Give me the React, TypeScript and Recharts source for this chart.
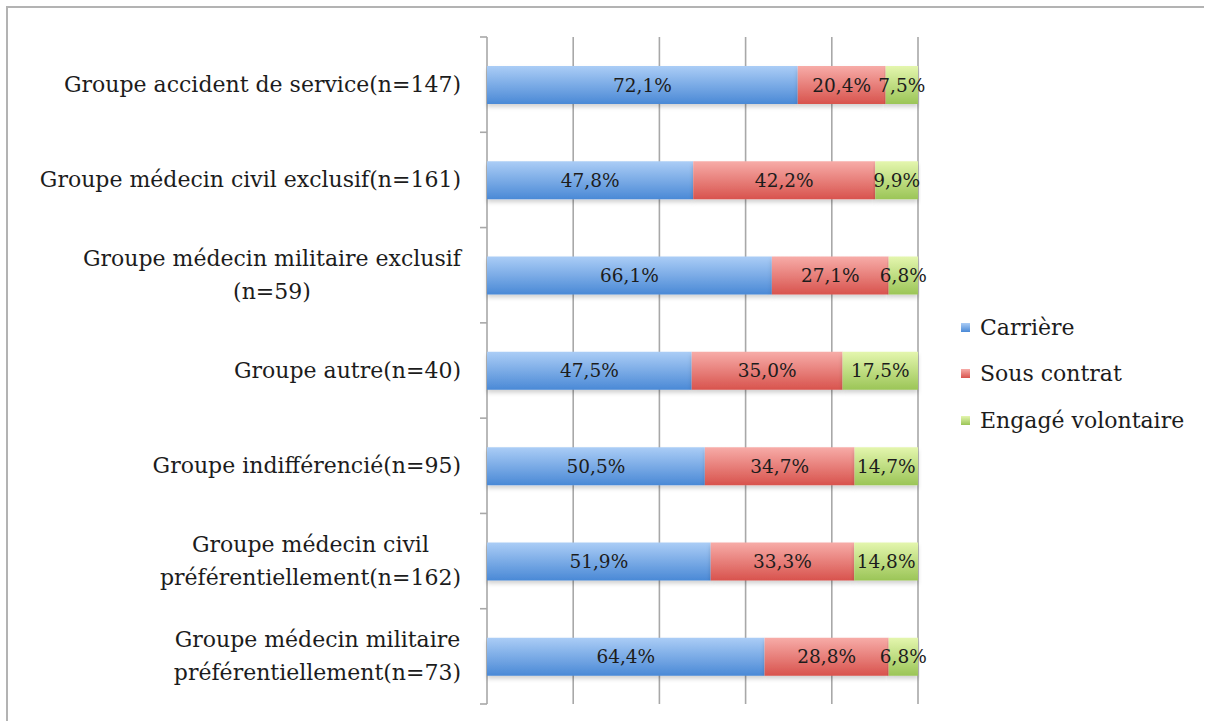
import React from "react";
import { BarChart, Bar, XAxis, YAxis, CartesianGrid, Legend, LabelList } from "recharts";

const categories = [
  "Groupe accident de service(n=147)",
  "Groupe médecin civil exclusif(n=161)",
  "Groupe médecin militaire exclusif\n(n=59)",
  "Groupe autre(n=40)",
  "Groupe indifférencié(n=95)",
  "Groupe médecin civil\npréférentiellement(n=162)",
  "Groupe médecin militaire\npréférentiellement(n=73)",
];
const carriere = [72.1, 47.8, 66.1, 47.5, 50.5, 51.9, 64.4];
const sousContrat = [20.4, 42.2, 27.1, 35.0, 34.7, 33.3, 28.8];
const engage = [7.5, 9.9, 6.8, 17.5, 14.7, 14.8, 6.8];
const seriesNames = ["Carrière", "Sous contrat", "Engagé volontaire"];
const xTicks = [0, 0.2, 0.4, 0.6, 0.8, 1];

const data = categories.map((c, i) => ({
  cat: c,
  carriere: carriere[i],
  sousContrat: sousContrat[i],
  engage: engage[i],
}));

const FONT = "'DejaVu Serif', serif";
const TEXT = "#1c1c1c";
const GRID = "#a8a8a8";

const gradients = [
  { id: "gBlue", top: "#abcdf6", bottom: "#4a89d6" },
  { id: "gRed", top: "#f7aca8", bottom: "#d8534d" },
  { id: "gGreen", top: "#e4f6ae", bottom: "#9bc557" },
];

let measureCtx: CanvasRenderingContext2D | null = null;
function measure(text: string, size: number): number {
  if (!measureCtx) {
    const c = document.createElement("canvas");
    measureCtx = c.getContext("2d");
  }
  if (!measureCtx) return text.length * size * 0.58;
  measureCtx.font = `${size}px 'DejaVu Serif'`;
  return measureCtx.measureText(text).width;
}

const LABEL_SIZE = 22;
const LINE_H = 33;
const TICK_MARGIN = 26;
const TICK_LEN = 7;

const CategoryTick = (props: any) => {
  const { x, y, payload, index } = props;
  const lines: string[] = String(payload.value).split("\n");
  const w = Math.max(...lines.map((l) => measure(l, LABEL_SIZE)));
  const cx = x - w / 2;
  const startY = y - ((lines.length - 1) * LINE_H) / 2;
  const half = typeof payload.offset === "number" ? payload.offset : 0;
  const axisX = x + TICK_MARGIN;
  const marks: number[] = [];
  if (half > 0) {
    marks.push(y - half);
    if (index === categories.length - 1) marks.push(y + half);
  }
  return (
    <g>
      {marks.map((my, i) => (
        <line
          key={`m${i}`}
          x1={axisX - TICK_LEN}
          x2={axisX}
          y1={my}
          y2={my}
          stroke={GRID}
          strokeWidth={1.6}
        />
      ))}
      {lines.map((l, i) => (
        <text
          key={i}
          x={cx}
          y={startY + i * LINE_H}
          textAnchor="middle"
          dominantBaseline="central"
          fontFamily={FONT}
          fontSize={LABEL_SIZE}
          fill={TEXT}
        >
          {l}
        </text>
      ))}
    </g>
  );
};

const EmptyTick = () => <g />;

const fmt = (v: any) => `${Number(v).toFixed(1).replace(".", ",")}%`;

const LegendContent = () => (
  <div style={{ fontFamily: FONT, fontSize: 22, color: TEXT }}>
    {seriesNames.map((n, i) => (
      <div key={n} style={{ display: "flex", alignItems: "center", height: 46.5, whiteSpace: "nowrap" }}>
        <div
          style={{
            width: 9,
            height: 9,
            marginRight: 10,
            flex: "none",
            background: `linear-gradient(${gradients[i].top}, ${gradients[i].bottom})`,
          }}
        />
        <span>{n}</span>
      </div>
    ))}
  </div>
);

const labelProps = {
  position: "center" as const,
  fill: TEXT,
  fontSize: 18.5,
  fontFamily: FONT,
  formatter: fmt,
};

const gridX = (args: any) => {
  const ax = args && args.xAxis;
  if (ax && typeof ax.scale === "function") {
    return xTicks.map((t) => ax.scale(t));
  }
  const off = args.offset;
  return xTicks.map((t) => off.left + t * off.width);
};

export default function App() {
  return (
    <div
      style={{
        position: "absolute",
        top: 6,
        left: 6,
        width: 1196,
        height: 713,
        borderTop: "2px solid #b3b3b3",
        borderLeft: "2px solid #b3b3b3",
        background: "#fff",
        overflow: "hidden",
      }}
    >
      <BarChart
        width={1196}
        height={713}
        data={data}
        layout="vertical"
        stackOffset="expand"
        barSize={38}
        margin={{ top: 29, right: 46, bottom: 17, left: 0 }}
      >
        <defs>
          {gradients.map((g) => (
            <linearGradient key={g.id} id={g.id} x1="0" y1="0" x2="0" y2="1">
              <stop offset="0%" stopColor={g.top} />
              <stop offset="100%" stopColor={g.bottom} />
            </linearGradient>
          ))}
          <filter id="shadow" x="-5%" y="-20%" width="110%" height="160%">
            <feDropShadow dx="0" dy="3" stdDeviation="2" floodColor="#000" floodOpacity="0.18" />
          </filter>
        </defs>
        <CartesianGrid
          horizontal={false}
          stroke={GRID}
          strokeWidth={1.6}
          verticalCoordinatesGenerator={gridX}
        />
        <XAxis
          type="number"
          domain={[0, 1]}
          ticks={xTicks}
          tick={<EmptyTick />}
          axisLine={false}
          tickLine={false}
          height={0}
        />
        <YAxis
          type="category"
          dataKey="cat"
          width={479}
          axisLine={false}
          tickLine={false}
          tickSize={0}
          tickMargin={TICK_MARGIN}
          tick={<CategoryTick />}
        />
        <Legend
          layout="vertical"
          align="right"
          verticalAlign="middle"
          content={<LegendContent />}
          wrapperStyle={{ left: 953, top: 296, width: 240, right: "auto", bottom: "auto" }}
        />
        <Bar dataKey="carriere" name={seriesNames[0]} stackId="a" fill="url(#gBlue)" filter="url(#shadow)" isAnimationActive={false}>
          <LabelList dataKey="carriere" {...labelProps} />
        </Bar>
        <Bar dataKey="sousContrat" name={seriesNames[1]} stackId="a" fill="url(#gRed)" filter="url(#shadow)" isAnimationActive={false}>
          <LabelList dataKey="sousContrat" {...labelProps} />
        </Bar>
        <Bar dataKey="engage" name={seriesNames[2]} stackId="a" fill="url(#gGreen)" filter="url(#shadow)" isAnimationActive={false}>
          <LabelList dataKey="engage" {...labelProps} />
        </Bar>
      </BarChart>
    </div>
  );
}
